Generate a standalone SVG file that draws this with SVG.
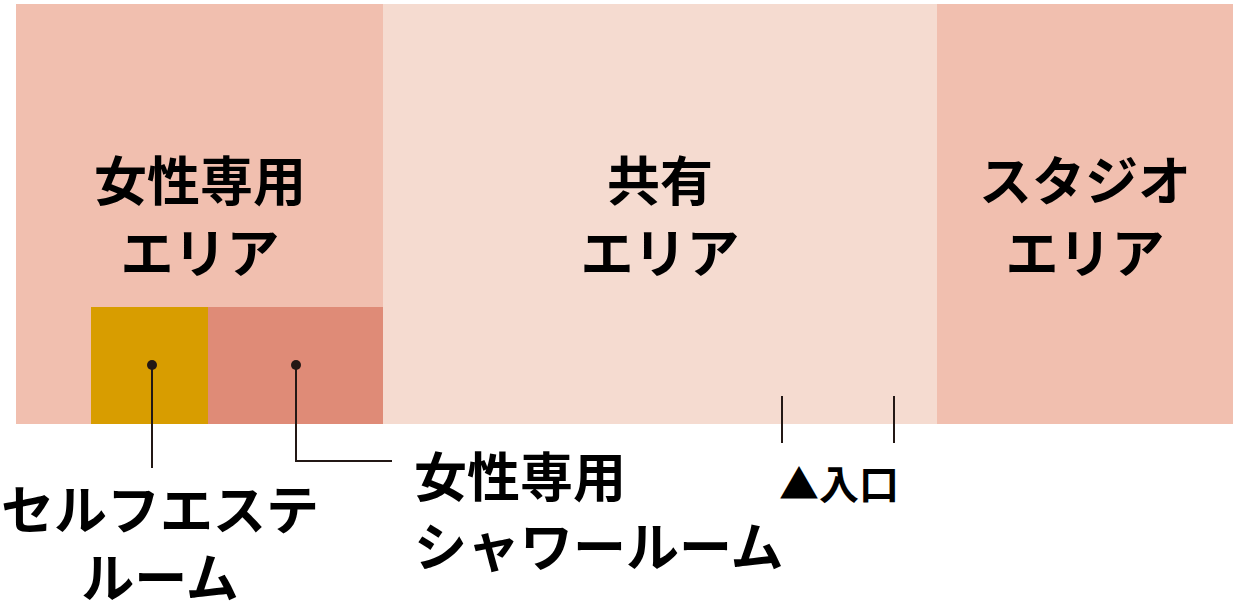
<svg xmlns="http://www.w3.org/2000/svg" width="1250" height="610" viewBox="0 0 1250 610">
<style>
.t{font-family:"Noto Sans CJK JP","Noto Sans",sans-serif;font-weight:700;fill:#000;}
.a{font-size:53px;text-anchor:middle;}
.l{font-size:53px;}
.c{stroke:#231815;stroke-width:2;fill:none;}
</style>
<rect width="1250" height="610" fill="#fff"/>
<g id="women-area"><rect x="16" y="4" width="367" height="420" fill="#F1BFAF"/>
<text class="t a" x="200" y="201">女性専用</text><text class="t a" x="200" y="273">エリア</text></g>
<g id="common-area"><rect x="383" y="4" width="554" height="420" fill="#F5DBD0"/>
<text class="t a" x="660" y="201">共有</text><text class="t a" x="660" y="273">エリア</text></g>
<g id="studio-area"><rect x="937" y="4" width="296" height="420" fill="#F1BFAF"/>
<text class="t a" x="1085" y="201">スタジオ</text><text class="t a" x="1085" y="273">エリア</text></g>
<g id="self-esthe"><rect x="91" y="307" width="117" height="117" fill="#D89D00"/></g>
<g id="shower"><rect x="208" y="307" width="175" height="117" fill="#DF8B77"/></g>
<g id="connectors">
<circle cx="152" cy="365" r="5" fill="#231815"/>
<path class="c" d="M152 365V468"/>
<circle cx="296" cy="365" r="5" fill="#231815"/>
<path class="c" d="M296 365V461H392"/>
<path class="c" d="M782 396V443M894 396V443"/>
</g>
<g id="labels">
<text class="t l" x="160" y="530" text-anchor="middle">セルフエステ</text>
<text class="t l" x="160" y="598" text-anchor="middle">ルーム</text>
<text class="t l" x="414" y="497">女性専用</text>
<text class="t l" x="414" y="567">シャワールーム</text>
<text class="t" x="779" y="499" font-size="40">▲入口</text>
</g>
</svg>
